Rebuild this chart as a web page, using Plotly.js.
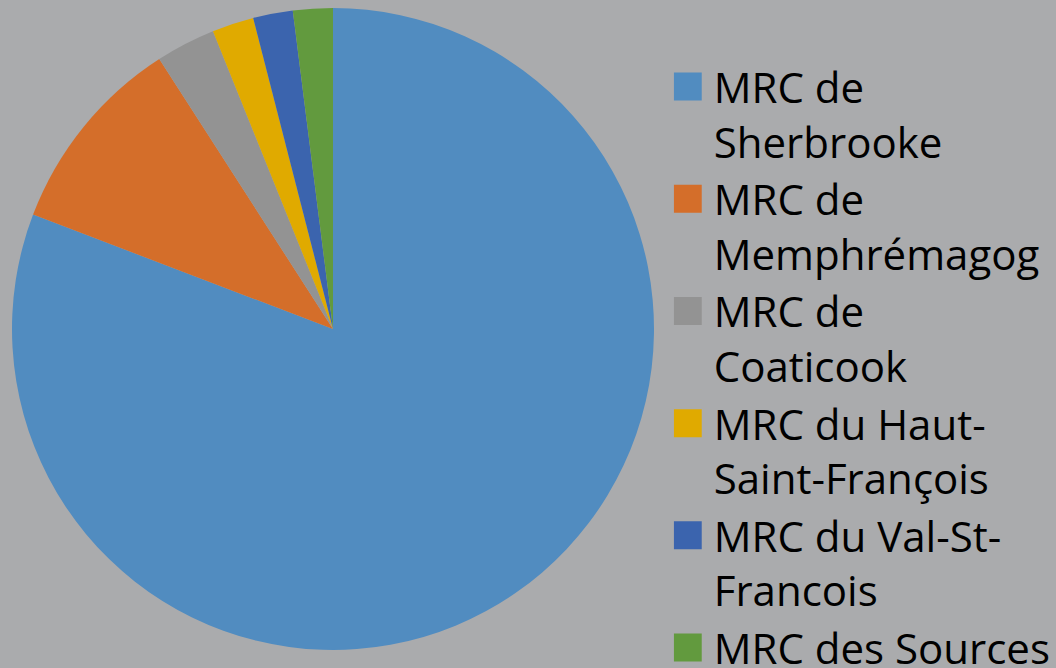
<!DOCTYPE html>
<html>
<head>
<meta charset="utf-8">
<script src="https://cdn.plot.ly/plotly-3.0.1.min.js"></script>
<style>html,body{margin:0;padding:0;background:#AAABAD;}#chart{width:1056px;height:668px;}</style>
</head>
<body>
<div id="chart"></div>
<script>
const labels = ["MRC de<br>Sherbrooke", "MRC de<br>Memphrémagog", "MRC de<br>Coaticook", "MRC du Haut-<br>Saint-François", "MRC du Val-St-<br>Francois", "MRC des Sources"];
const values = [80.8, 10.1, 3.0, 2.1, 2.0, 2.0];
const colors = ["#518CC0", "#D46E2A", "#939393", "#E0AA00", "#3B64AE", "#629A3E"];

const trace = {
  type: "pie",
  labels: labels,
  values: values,
  sort: false,
  direction: "clockwise",
  rotation: 0,
  textinfo: "none",
  hoverinfo: "label+percent",
  marker: {colors: colors, line: {width: 0}},
  domain: {x: [12/1056, 654/1056], y: [18/668, 660/668]}
};

const layout = {
  width: 1056, height: 668,
  margin: {l: 0, r: 0, t: 0, b: 0, autoexpand: false},
  paper_bgcolor: "#AAABAD",
  plot_bgcolor: "#AAABAD",
  showlegend: true,
  legend: {
    x: 0.638, xanchor: "left",
    y: 0.921, yanchor: "top",
    valign: "top",
    font: {family: "Open Sans", size: 42, color: "#000000"},
    bgcolor: "rgba(0,0,0,0)",
    borderwidth: 0,
    maxheight: 2000,
    itemclick: false
  }
};

function bigSquares() {
  document.querySelectorAll('.legendpie').forEach(p => p.setAttribute('d', 'M8,14H-20V-14H8Z'));
}
Plotly.newPlot('chart', [trace], layout, {displayModeBar: false, staticPlot: true}).then(gd => {
  bigSquares();
  gd.on('plotly_afterplot', bigSquares);
});
</script>
</body>
</html>
